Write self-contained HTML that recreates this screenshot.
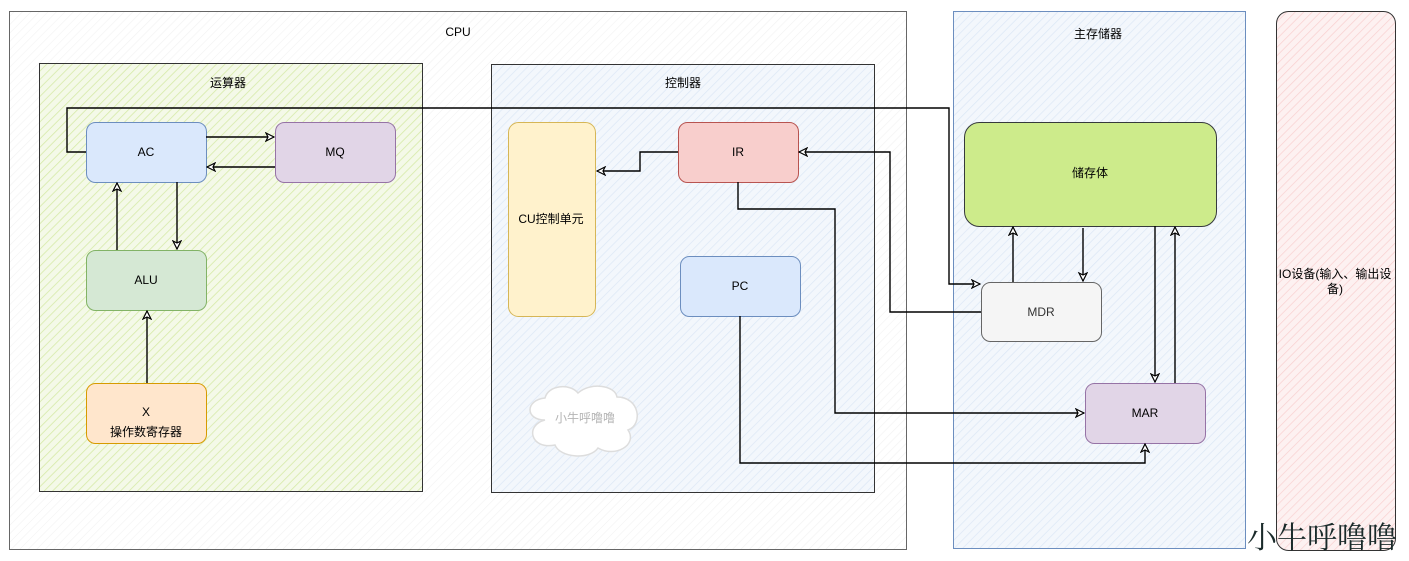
<!DOCTYPE html>
<html><head><meta charset="utf-8"><style>
html,body{margin:0;padding:0;background:#fff;}
svg{display:block;font-family:"Liberation Sans","Noto Sans CJK SC",sans-serif;}
</style></head><body>
<svg width="1409" height="561" viewBox="0 0 1409 561" xmlns="http://www.w3.org/2000/svg">
<defs>
<pattern id="hg" width="6" height="6" patternUnits="userSpaceOnUse" patternTransform="rotate(45)"><rect width="6" height="6" fill="#f4f9e8"/><line x1="0" y1="0" x2="0" y2="6" stroke="#d6eaa8" stroke-width="1.6"/></pattern>
<pattern id="hb" width="6" height="6" patternUnits="userSpaceOnUse" patternTransform="rotate(45)"><rect width="6" height="6" fill="#f3f7fc"/><line x1="0" y1="0" x2="0" y2="6" stroke="#dce7f5" stroke-width="1.4"/></pattern>
<pattern id="hr" width="6" height="6" patternUnits="userSpaceOnUse" patternTransform="rotate(45)"><rect width="6" height="6" fill="#fdf1f1"/><line x1="0" y1="0" x2="0" y2="6" stroke="#f8d0d0" stroke-width="1.4"/></pattern>
<pattern id="hw" width="6" height="6" patternUnits="userSpaceOnUse" patternTransform="rotate(45)"><rect width="6" height="6" fill="#fff"/><line x1="0" y1="0" x2="0" y2="6" stroke="#f2f2f2" stroke-width="1.2"/></pattern>
<marker id="a" markerWidth="10" markerHeight="10" refX="9" refY="5" orient="auto" markerUnits="userSpaceOnUse"><path d="M1,1 L9,5 L1,9 L3,5 Z" fill="#fff" stroke="#000" stroke-width="1.2"/></marker>
</defs>
<!-- CPU -->
<rect x="9.5" y="11.5" width="897" height="538" fill="url(#hw)" stroke="#666"/>
<text x="458" y="36" font-size="12" text-anchor="middle">CPU</text>
<!-- 运算器 -->
<rect x="39.5" y="63.5" width="383" height="428" fill="url(#hg)" stroke="#333"/>
<text x="228" y="87" font-size="12" text-anchor="middle">运算器</text>
<!-- 控制器 -->
<rect x="491.5" y="64.5" width="383" height="428" fill="url(#hb)" stroke="#333"/>
<text x="683" y="87" font-size="12" text-anchor="middle">控制器</text>
<!-- 主存储器 -->
<rect x="953.5" y="11.5" width="292" height="537" fill="url(#hb)" stroke="#6c8ebf"/>
<text x="1098" y="38" font-size="12" text-anchor="middle">主存储器</text>
<!-- IO -->
<rect x="1276.5" y="11.5" width="119" height="539" rx="12" fill="url(#hr)" stroke="#333"/>
<text x="1335" y="278" font-size="12" text-anchor="middle">IO设备(输入、输出设</text>
<text x="1335" y="293" font-size="12" text-anchor="middle">备)</text>

<!-- boxes -->
<rect x="86.5" y="122.5" width="120" height="60" rx="9" fill="#dae8fc" stroke="#6c8ebf"/>
<text x="146" y="156" font-size="12" text-anchor="middle">AC</text>
<rect x="275.5" y="122.5" width="120" height="60" rx="9" fill="#e1d5e7" stroke="#9673a6"/>
<text x="335" y="156" font-size="12" text-anchor="middle">MQ</text>
<rect x="86.5" y="250.5" width="120" height="60" rx="9" fill="#d5e8d4" stroke="#82b366"/>
<text x="146" y="284" font-size="12" text-anchor="middle">ALU</text>
<rect x="86.5" y="383.5" width="120" height="60" rx="9" fill="#ffe6cc" stroke="#d79b00"/>
<text x="146" y="416" font-size="12" text-anchor="middle">X</text>
<text x="146" y="436" font-size="12" text-anchor="middle">操作数寄存器</text>

<rect x="508.5" y="122.5" width="87" height="194" rx="10" fill="#fff2cc" stroke="#d6b656"/>
<text x="551" y="223" font-size="12" text-anchor="middle">CU控制单元</text>
<rect x="678.5" y="122.5" width="120" height="60" rx="9" fill="#f8cecc" stroke="#b85450"/>
<text x="738" y="156" font-size="12" text-anchor="middle">IR</text>
<rect x="680.5" y="256.5" width="120" height="60" rx="9" fill="#dae8fc" stroke="#6c8ebf"/>
<text x="740" y="290" font-size="12" text-anchor="middle">PC</text>

<!-- cloud -->
<path d="M545,420 C525,420 525,400 545,398 C548,385 570,383 578,393 C590,382 615,385 617,397 C640,397 643,425 628,430 C638,445 615,458 598,448 C590,460 560,458 555,445 C530,450 525,425 545,420 Z" fill="#fff" stroke="#ddd" stroke-width="1.5"/>
<text x="585" y="422" font-size="12" fill="#b5b5b5" text-anchor="middle">小牛呼噜噜</text>

<rect x="964.5" y="122.5" width="252" height="104" rx="15" fill="#cdeb8b" stroke="#36393d"/>
<text x="1090" y="177" font-size="12" text-anchor="middle">储存体</text>
<rect x="981.5" y="282.5" width="120" height="59" rx="9" fill="#f5f5f5" stroke="#666"/>
<text x="1041" y="316" font-size="12" fill="#333" text-anchor="middle">MDR</text>
<rect x="1085.5" y="383.5" width="120" height="60" rx="9" fill="#e1d5e7" stroke="#9673a6"/>
<text x="1145" y="417" font-size="12" text-anchor="middle">MAR</text>

<!-- connectors -->
<g fill="none" stroke="#000" stroke-width="1.4">
<path d="M86,152 H67 V108 H949 V284 H980" marker-end="url(#a)"/>
<path d="M206,137 H274" marker-end="url(#a)"/>
<path d="M275,167 H207" marker-end="url(#a)"/>
<path d="M117,250 V183" marker-end="url(#a)"/>
<path d="M177,182 V249" marker-end="url(#a)"/>
<path d="M147,383 V311" marker-end="url(#a)"/>
<path d="M678,152 H640 V171 H597" marker-end="url(#a)"/>
<path d="M981,312 H890 V152 H799" marker-end="url(#a)"/>
<path d="M738,182 V209 H835 V413 H1084" marker-end="url(#a)"/>
<path d="M740,316 V463 H1145 V444" marker-end="url(#a)"/>
<path d="M1013,282 V227" marker-end="url(#a)"/>
<path d="M1083,228 V281" marker-end="url(#a)"/>
<path d="M1155,226 V382" marker-end="url(#a)"/>
<path d="M1175,383 V227" marker-end="url(#a)"/>
</g>

<text x="1322" y="548" font-size="30" fill="#1a2a2a" text-anchor="middle" font-family="'Noto Serif CJK SC',serif">小牛呼噜噜</text>
</svg>
</body></html>
